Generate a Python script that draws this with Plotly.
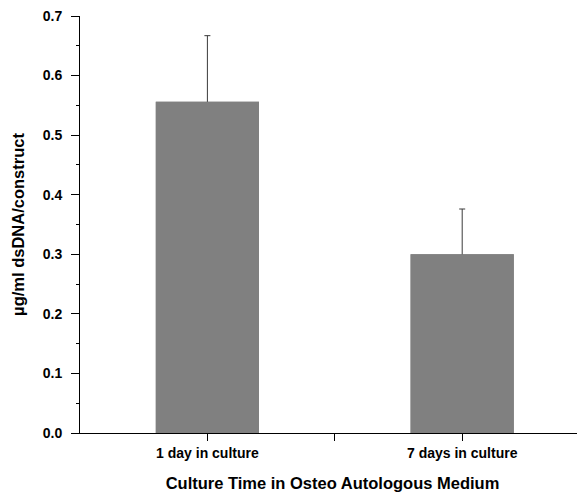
import plotly.graph_objects as go

categories = ["1 day in culture", "7 days in culture"]
dsdna = [0.556, 0.300]
dsdna_err = [0.111, 0.076]
y_tick_vals = [0.0, 0.1, 0.2, 0.3, 0.4, 0.5, 0.6, 0.7]

positions = list(range(len(categories)))
tick_positions = [0, 0.5, 1]
tick_text = [categories[0], "", categories[1]]

FONT = "Liberation Sans, Arial, sans-serif"
BAR_COLOR = "#808080"

fig = go.Figure()
# bars with symmetric error bars
fig.add_trace(go.Bar(
    x=positions,
    y=dsdna,
    width=0.405,
    marker=dict(color=BAR_COLOR, line=dict(width=0)),
    error_y=dict(
        type="data",
        array=dsdna_err,
        symmetric=True,
        color="#3a3a3a",
        thickness=1,
        width=3,
    ),
    showlegend=False,
))
# same bars drawn again on top, hiding the lower half of each error bar
fig.add_trace(go.Bar(
    x=positions,
    y=dsdna,
    width=0.405,
    marker=dict(color=BAR_COLOR, line=dict(width=0)),
    showlegend=False,
    hoverinfo="skip",
))

fig.update_layout(
    width=577,
    height=484,
    barmode="overlay",
    margin=dict(l=71.5, r=0, t=8, b=59),
    paper_bgcolor="white",
    plot_bgcolor="white",
    font=dict(family=FONT, color="black"),
    xaxis=dict(
        range=[-0.5, 1.482],
        tickmode="array",
        tickvals=tick_positions,
        ticktext=tick_text,
        ticks="outside",
        ticklen=7,
        tickwidth=1,
        tickcolor="black",
        showline=True,
        linecolor="black",
        linewidth=1,
        showgrid=False,
        zeroline=False,
        tickfont=dict(family=FONT, size=14, color="black", weight="bold"),
        title=dict(
            text="<b>Culture Time in Osteo Autologous Medium</b>",
            font=dict(family=FONT, size=16.5, color="black"),
            standoff=20,
        ),
        automargin=False,
    ),
    yaxis=dict(
        range=[0, 0.7],
        tickmode="array",
        tickvals=y_tick_vals,
        tickformat=".1f",
        ticks="outside",
        ticklen=8,
        tickwidth=1,
        tickcolor="black",
        showline=True,
        linecolor="black",
        linewidth=1,
        showgrid=False,
        zeroline=False,
        ticklabelstandoff=6,
        ticklabeloverflow="allow",
        tickfont=dict(family=FONT, size=14, color="black", weight="bold"),
        minor=dict(dtick=0.05, tick0=0, ticks="outside", ticklen=3, tickcolor="black", tickwidth=1, showgrid=False),
        title=dict(
            text="<b>µg/ml dsDNA/construct</b>",
            font=dict(family=FONT, size=16.5, color="black"),
            standoff=13,
        ),
        automargin=False,
    ),
)

fig.write_html("out.html")
